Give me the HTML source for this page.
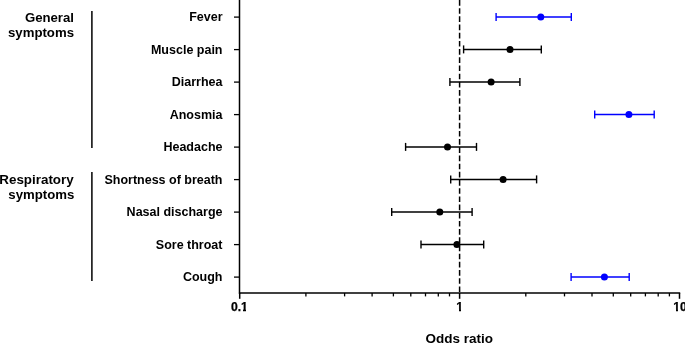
<!DOCTYPE html>
<html><head><meta charset="utf-8"><title>Forest plot</title>
<style>html,body{margin:0;padding:0;background:#fff;overflow:hidden}svg{display:block;will-change:transform}text{font-family:"Liberation Sans",sans-serif;font-weight:bold;fill:#000}</style>
</head><body>
<svg width="685" height="343" viewBox="0 0 685 343">
<rect width="685" height="343" fill="#fff"/>
<g font-size="13.2" text-anchor="end">
<text x="74.0" y="21.6">General</text>
<text x="74.0" y="36.6">symptoms</text>
<text x="73.7" y="183.8" font-size="13.4">Respiratory</text>
<text x="74.3" y="198.8">symptoms</text>
</g>
<g stroke="#000" stroke-width="1.5" fill="none">
<line x1="91.9" y1="11.0" x2="91.9" y2="147.9"/>
<line x1="91.9" y1="172" x2="91.9" y2="281.0"/>
</g>
<g font-size="12.5" text-anchor="end">
<text x="222.5" y="21.1">Fever</text>
<text x="222.5" y="53.6">Muscle pain</text>
<text x="222.5" y="86.1">Diarrhea</text>
<text x="222.5" y="118.6">Anosmia</text>
<text x="222.5" y="151.1">Headache</text>
<text x="222.5" y="183.6">Shortness of breath</text>
<text x="222.5" y="216.1">Nasal discharge</text>
<text x="222.5" y="248.6">Sore throat</text>
<text x="222.5" y="281.1">Cough</text>
</g>
<g stroke="#000" stroke-width="1.5" fill="none">
<line x1="239.5" y1="0" x2="239.5" y2="293.75"/>
<line x1="238.95" y1="293.0" x2="680.2" y2="293.0"/>
<line x1="234.0" y1="17.1" x2="239.5" y2="17.1" stroke-width="1.3"/>
<line x1="234.0" y1="49.6" x2="239.5" y2="49.6" stroke-width="1.3"/>
<line x1="234.0" y1="82.1" x2="239.5" y2="82.1" stroke-width="1.3"/>
<line x1="234.0" y1="114.6" x2="239.5" y2="114.6" stroke-width="1.3"/>
<line x1="234.0" y1="147.1" x2="239.5" y2="147.1" stroke-width="1.3"/>
<line x1="234.0" y1="179.6" x2="239.5" y2="179.6" stroke-width="1.3"/>
<line x1="234.0" y1="212.1" x2="239.5" y2="212.1" stroke-width="1.3"/>
<line x1="234.0" y1="244.6" x2="239.5" y2="244.6" stroke-width="1.3"/>
<line x1="234.0" y1="277.1" x2="239.5" y2="277.1" stroke-width="1.3"/>
<line x1="239.7" y1="293.0" x2="239.7" y2="298.8"/>
<line x1="459.6" y1="293.0" x2="459.6" y2="298.8"/>
<line x1="679.5" y1="293.0" x2="679.5" y2="298.8"/>
<line x1="305.9" y1="293.0" x2="305.9" y2="296.4" stroke-width="1.3"/>
<line x1="344.6" y1="293.0" x2="344.6" y2="296.4" stroke-width="1.3"/>
<line x1="372.1" y1="293.0" x2="372.1" y2="296.4" stroke-width="1.3"/>
<line x1="393.4" y1="293.0" x2="393.4" y2="296.4" stroke-width="1.3"/>
<line x1="410.8" y1="293.0" x2="410.8" y2="296.4" stroke-width="1.3"/>
<line x1="425.5" y1="293.0" x2="425.5" y2="296.4" stroke-width="1.3"/>
<line x1="438.3" y1="293.0" x2="438.3" y2="296.4" stroke-width="1.3"/>
<line x1="449.5" y1="293.0" x2="449.5" y2="296.4" stroke-width="1.3"/>
<line x1="525.8" y1="293.0" x2="525.8" y2="296.4" stroke-width="1.3"/>
<line x1="564.5" y1="293.0" x2="564.5" y2="296.4" stroke-width="1.3"/>
<line x1="592.0" y1="293.0" x2="592.0" y2="296.4" stroke-width="1.3"/>
<line x1="613.3" y1="293.0" x2="613.3" y2="296.4" stroke-width="1.3"/>
<line x1="630.7" y1="293.0" x2="630.7" y2="296.4" stroke-width="1.3"/>
<line x1="645.4" y1="293.0" x2="645.4" y2="296.4" stroke-width="1.3"/>
<line x1="658.2" y1="293.0" x2="658.2" y2="296.4" stroke-width="1.3"/>
<line x1="669.4" y1="293.0" x2="669.4" y2="296.4" stroke-width="1.3"/>
<line x1="459.6" y1="0" x2="459.6" y2="293.0" stroke-dasharray="5.65 2.533"/>
</g>
<g stroke="#0000ff" stroke-width="1.5" fill="#0000ff">
<line x1="496.1" y1="16.9" x2="571.3" y2="16.9"/>
<line x1="496.1" y1="12.9" x2="496.1" y2="20.9" stroke-width="1.4"/>
<line x1="571.3" y1="12.9" x2="571.3" y2="20.9" stroke-width="1.4"/>
<circle cx="540.8" cy="16.9" r="3.5" stroke="none"/>
</g>
<g stroke="#000" stroke-width="1.5" fill="#000">
<line x1="463.6" y1="49.4" x2="541.3" y2="49.4"/>
<line x1="463.6" y1="45.4" x2="463.6" y2="53.4" stroke-width="1.4"/>
<line x1="541.3" y1="45.4" x2="541.3" y2="53.4" stroke-width="1.4"/>
<circle cx="510.0" cy="49.4" r="3.5" stroke="none"/>
</g>
<g stroke="#000" stroke-width="1.5" fill="#000">
<line x1="449.9" y1="81.9" x2="519.9" y2="81.9"/>
<line x1="449.9" y1="77.9" x2="449.9" y2="85.9" stroke-width="1.4"/>
<line x1="519.9" y1="77.9" x2="519.9" y2="85.9" stroke-width="1.4"/>
<circle cx="491.1" cy="81.9" r="3.5" stroke="none"/>
</g>
<g stroke="#0000ff" stroke-width="1.5" fill="#0000ff">
<line x1="594.7" y1="114.4" x2="654.2" y2="114.4"/>
<line x1="594.7" y1="110.4" x2="594.7" y2="118.4" stroke-width="1.4"/>
<line x1="654.2" y1="110.4" x2="654.2" y2="118.4" stroke-width="1.4"/>
<circle cx="628.9" cy="114.4" r="3.5" stroke="none"/>
</g>
<g stroke="#000" stroke-width="1.5" fill="#000">
<line x1="405.6" y1="146.9" x2="476.5" y2="146.9"/>
<line x1="405.6" y1="142.9" x2="405.6" y2="150.9" stroke-width="1.4"/>
<line x1="476.5" y1="142.9" x2="476.5" y2="150.9" stroke-width="1.4"/>
<circle cx="447.5" cy="146.9" r="3.5" stroke="none"/>
</g>
<g stroke="#000" stroke-width="1.5" fill="#000">
<line x1="450.7" y1="179.4" x2="536.6" y2="179.4"/>
<line x1="450.7" y1="175.4" x2="450.7" y2="183.4" stroke-width="1.4"/>
<line x1="536.6" y1="175.4" x2="536.6" y2="183.4" stroke-width="1.4"/>
<circle cx="503.1" cy="179.4" r="3.5" stroke="none"/>
</g>
<g stroke="#000" stroke-width="1.5" fill="#000">
<line x1="391.7" y1="211.9" x2="472.1" y2="211.9"/>
<line x1="391.7" y1="207.9" x2="391.7" y2="215.9" stroke-width="1.4"/>
<line x1="472.1" y1="207.9" x2="472.1" y2="215.9" stroke-width="1.4"/>
<circle cx="439.8" cy="211.9" r="3.5" stroke="none"/>
</g>
<g stroke="#000" stroke-width="1.5" fill="#000">
<line x1="421.0" y1="244.4" x2="483.7" y2="244.4"/>
<line x1="421.0" y1="240.4" x2="421.0" y2="248.4" stroke-width="1.4"/>
<line x1="483.7" y1="240.4" x2="483.7" y2="248.4" stroke-width="1.4"/>
<circle cx="456.9" cy="244.4" r="3.5" stroke="none"/>
</g>
<g stroke="#0000ff" stroke-width="1.5" fill="#0000ff">
<line x1="571.1" y1="276.9" x2="629.2" y2="276.9"/>
<line x1="571.1" y1="272.9" x2="571.1" y2="280.9" stroke-width="1.4"/>
<line x1="629.2" y1="272.9" x2="629.2" y2="280.9" stroke-width="1.4"/>
<circle cx="604.4" cy="276.9" r="3.5" stroke="none"/>
</g>
<g font-size="12.2" text-anchor="middle" stroke="#000" stroke-width="0.25">
<text x="239.4" y="310.9">0.1</text>
<text x="459.7" y="310.9">1</text>
<text x="680.0" y="310.9">10</text>
</g>
<g fill="#fff">
<rect x="240.9" y="309" width="2.1" height="3"/>
<rect x="246" y="309" width="2.6" height="3"/>
<rect x="455.6" y="309" width="3.4" height="3"/>
<rect x="461" y="309" width="3.4" height="3"/>
<rect x="672.6" y="309" width="3.4" height="3"/>
<rect x="678" y="309" width="2.0" height="3"/>
</g>
<text x="459.3" y="342.9" font-size="13.5" text-anchor="middle">Odds ratio</text>
</svg></body></html>
